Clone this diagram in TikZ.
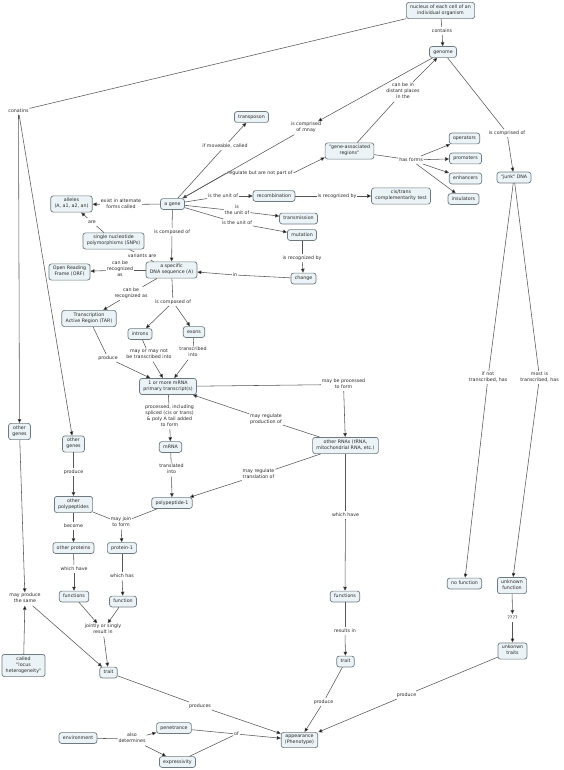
\documentclass[tikz,border=0pt]{standalone}
\usepackage{fontspec}
\newfontfamily\cmfont{DejaVu Sans}
\usetikzlibrary{arrows.meta}
\definecolor{boxfill}{RGB}{236,243,246}
\definecolor{boxline}{RGB}{110,122,128}
\definecolor{linkcol}{RGB}{85,85,85}
\definecolor{txtcol}{RGB}{40,40,40}
\begin{document}
\begin{tikzpicture}[x=1pt,y=-1pt,
  cbox/.style={draw=boxline, fill=boxfill, rounded corners=2.5pt, line width=0.7pt,
    font=\cmfont\fontsize{4.75}{6}\selectfont, text=txtcol, align=center,
    inner xsep=3.8pt, inner ysep=2.4pt,
    execute at begin node={\strut}, execute at end node={\strut}},
  lp/.style={font=\cmfont\fontsize{4.75}{6}\selectfont, text=txtcol, align=center,
    inner sep=0.8pt,
    execute at begin node={\strut}, execute at end node={\strut}},
  ln/.style={draw=linkcol, line width=0.55pt},
  arr/.style={draw=linkcol, line width=0.55pt, -{Triangle[length=4pt,width=3.6pt]}, arrows={[fill=black]}}
]
\useasboundingbox (0,0) rectangle (563,770);

% concepts
\node[cbox] (nuc) at (440.5,10.5) {nucleus of each cell of an\\individual organism};
\node[cbox] (genome) at (443,52) {genome};
\node[cbox] (ops) at (464.5,138.5) {operators};
\node[cbox] (pro) at (465.5,158.5) {promoters};
\node[cbox] (enh) at (465.5,178.5) {enhancers};
\node[cbox] (ins) at (463.5,199) {insulators};
\node[cbox] (junk) at (514,177.5) {"junk" DNA};
\node[cbox] (cis) at (401,196) {cis/trans\\complementarity test};
\node[cbox] (gar) at (349.5,151) {"gene-associated\\regions"};
\node[cbox] (tra) at (251.5,117) {transposon};
\node[cbox] (rec) at (274,196) {recombination};
\node[cbox] (trm) at (298.5,218.5) {transmission};
\node[cbox] (mut) at (302,235) {mutation};
\node[cbox] (chg) at (303.5,278.5) {change};
\node[cbox] (gene) at (172.5,204) {a gene};
\node[cbox] (all) at (71.5,204) {alleles\\(A, a1, a2, an)};
\node[cbox] (snp) at (113.5,241) {single nucleotide\\polymorphisms (SNPs)};
\node[cbox] (dna) at (171.5,270) {a specific\\DNA sequence (A)};
\node[cbox] (orf) at (69.5,272) {Open Reading\\Frame (ORF)};
\node[cbox] (tar) at (89,318.5) {Transcription\\Active Region (TAR)};
\node[cbox] (int) at (140,334) {introns};
\node[cbox] (exo) at (194,332) {exons};
\node[cbox] (prim) at (168,386.5) {1 or more mRNA\\primary transcript(s)};
\node[cbox] (mrna) at (170.5,447) {mRNA};
\node[cbox] (pp1) at (172,503) {polypeptide-1};
\node[cbox] (orna) at (345.5,445.5) {other RNAs (tRNA,\\mitochondrial RNA, etc.)};
\node[cbox] (og1) at (19.5,431.5) {other\\genes};
\node[cbox] (og2) at (73.5,444) {other\\genes};
\node[cbox] (opp) at (73.5,504.5) {other\\polypeptides};
\node[cbox] (opr) at (73.5,548) {other proteins};
\node[cbox] (pr1) at (122,548) {protein-1};
\node[cbox] (fnl) at (74,596.5) {functions};
\node[cbox] (fn1) at (123,601.5) {function};
\node[cbox] (trl) at (108.5,672.5) {trait};
\node[cbox] (loc) at (23.5,665.5) {called\\"locus\\heterogeneity"};
\node[cbox] (env) at (78,738) {environment};
\node[cbox] (pen) at (174,728) {penetrance};
\node[cbox] (exp) at (177.5,762) {expressivity};
\node[cbox] (app) at (299.5,740) {appearance\\(Phenotype)};
\node[cbox] (fnr) at (345,596.5) {functions};
\node[cbox] (trr) at (345.5,661.5) {trait};
\node[cbox] (nof) at (464.5,583.5) {no function};
\node[cbox] (unf) at (512,585.5) {unknown\\function};
\node[cbox] (unt) at (512.5,651) {unkonwn\\traits};

% linking phrases
\node[lp] (conat) at (18.5,111) {conatins};
\node[lp] (cont) at (442,31) {contains};
\node[lp] (cbd) at (403,92) {can be in\\distant places\\in the};
\node[lp] (icj) at (507,133) {is comprised of};
\node[lp] (hf) at (411,160) {has forms};
\node[lp] (icm) at (306,128) {is comprised\\of mnay};
\node[lp] (ifm) at (225,146) {if moveable, called};
\node[lp] (rbn) at (260,173) {regulate but are not part of};
\node[lp] (iu1) at (223,196) {is the unit of};
\node[lp] (irb1) at (337,196) {is recognized by};
\node[lp] (iu2) at (237,211) {is\\the unit of};
\node[lp] (iu3) at (237,223) {is the unit of};
\node[lp] (irb2) at (302,258) {is recognized by};
\node[lp] (inph) at (235,275) {in};
\node[lp] (exf) at (121,204.5) {exist in alternate\\forms called};
\node[lp] (are) at (92,222) {are};
\node[lp] (icg) at (172,232) {is composed of};
\node[lp] (var) at (142,256) {variants are};
\node[lp] (cbr1) at (120,270) {can be\\recognized\\as};
\node[lp] (cbr2) at (131,293.5) {can be\\recognized as};
\node[lp] (icd) at (173,302) {is composed of};
\node[lp] (mmn) at (149,355) {may or may not\\be transcribed into};
\node[lp] (ti) at (193,353) {transcribed\\into};
\node[lp] (prod1) at (108,358) {produce};
\node[lp] (proc) at (169.5,416.5) {processed, including\\spliced (cis or trans)\\\& poly A tail added\\to form};
\node[lp] (tin) at (171.5,470) {translated\\into};
\node[lp] (mbp) at (343.5,384.5) {may be processed\\to form};
\node[lp] (mrp) at (266,419.5) {may regulate\\production of};
\node[lp] (mrt) at (258.5,475) {may regulate\\translation of};
\node[lp] (wh1) at (345.5,515) {which have};
\node[lp] (res) at (345,631) {results in};
\node[lp] (prod2) at (323.5,702) {produce};
\node[lp] (prods) at (200,706) {produces};
\node[lp] (ofph) at (236.5,734) {of};
\node[lp] (ad) at (132,739) {also\\determines};
\node[lp] (prod3) at (406.5,695) {produce};
\node[lp] (qq) at (512.5,618) {????};
\node[lp] (inot) at (488,377.5) {if not\\transcribed, has};
\node[lp] (most) at (539.5,377.5) {most is\\transcribed, has};
\node[lp] (prod4) at (73.5,472) {produce};
\node[lp] (bec) at (73.5,526) {become};
\node[lp] (mjf) at (121,523) {may join\\to form};
\node[lp] (wh2) at (74,569) {which have};
\node[lp] (whs) at (122,576) {which has};
\node[lp] (jos) at (103,630) {jointly or singly\\result in};
\node[lp] (mps) at (25,599) {may produce\\the same};

% connectors
\draw[ln] (nuc) -- (cont); \draw[arr] (cont) -- (genome);
\draw[ln] (nuc) -- (conat); \draw[arr] (conat) -- (og1); \draw[arr] (conat) -- (og2);
\draw[ln] (genome) -- (icj); \draw[arr] (icj) -- (junk);
\draw[ln] (gar) -- (cbd); \draw[arr] (cbd) -- (genome);
\draw[arr] (genome) -- (icm); \draw[arr] (icm) -- (gene);
\draw[ln] (gar) -- (hf);
\draw[arr] (hf) -- (ops); \draw[arr] (hf) -- (pro); \draw[arr] (hf) -- (enh); \draw[arr] (hf) -- (ins);
\draw[ln] (gene) -- (ifm); \draw[arr] (ifm) -- (tra);
\draw[ln] (gene) -- (rbn.west); \draw[arr] (rbn.east) -- ([yshift=2pt]gar.south west);
\draw[ln] (gene) -- (iu1); \draw[arr] (iu1) -- (rec);
\draw[ln] (rec) -- (irb1); \draw[arr] (irb1) -- (cis);
\draw[ln] (gene) -- (iu2); \draw[arr] (iu2) -- (trm);
\draw[ln] (gene) -- (iu3); \draw[arr] (iu3) -- (mut);
\draw[ln] (mut) -- (irb2); \draw[arr] (irb2) -- (chg);
\draw[ln] (chg) -- (inph); \draw[arr] (inph) -- (dna);
\draw[ln] (gene) -- (exf); \draw[arr] (exf) -- (all);
\draw[ln] (snp) -- (are); \draw[arr] (are) -- (all);
\draw[ln] (gene) -- (icg); \draw[arr] (icg) -- (dna);
\draw[ln] (dna) -- (var); \draw[ln] (var) -- (snp);
\draw[ln] (dna) -- (cbr1); \draw[arr] (cbr1) -- (orf);
\draw[ln] (dna) -- (cbr2); \draw[arr] (cbr2) -- (tar);
\draw[ln] (dna) -- (icd); \draw[arr] (icd) -- (int); \draw[arr] (icd) -- (exo);
\draw[ln] (int) -- (mmn); \draw[arr] (mmn) -- (prim);
\draw[ln] (exo) -- (ti); \draw[arr] (ti) -- (prim);
\draw[ln] (tar) -- (prod1); \draw[arr] (prod1) -- (prim);
\draw[ln] (prim) -- (proc); \draw[arr] (proc) -- (mrna);
\draw[ln] (mrna) -- (tin); \draw[arr] (tin) -- (pp1);
\draw[ln] (prim) -- (mbp); \draw[arr] (mbp) -- (orna);
\draw[ln] (orna) -- (mrp); \draw[arr] (mrp) -- (prim);
\draw[ln] (orna) -- (mrt); \draw[arr] (mrt) -- (pp1);
\draw[ln] (orna) -- (wh1); \draw[arr] (wh1) -- (fnr);
\draw[ln] (fnr) -- (res); \draw[arr] (res) -- (trr);
\draw[ln] (trr) -- (prod2); \draw[arr] (prod2) -- (app);
\draw[ln] (og2) -- (prod4); \draw[arr] (prod4) -- (opp);
\draw[ln] (opp) -- (bec); \draw[arr] (bec) -- (opr);
\draw[ln] (opp) -- (mjf); \draw[ln] (pp1) -- (mjf); \draw[arr] (mjf) -- (pr1);
\draw[ln] (opr) -- (wh2); \draw[arr] (wh2) -- (fnl);
\draw[ln] (pr1) -- (whs); \draw[arr] (whs) -- (fn1);
\draw[arr] (fnl) -- (jos); \draw[arr] (fn1) -- (jos); \draw[arr] (jos) -- (trl);
\draw[arr] (og1) -- (mps); \draw[arr] (loc) -- (mps); \draw[arr] (mps) -- (trl);
\draw[ln] (trl) -- (prods); \draw[arr] (prods) -- (app);
\draw[ln] (env) -- (ad); \draw[arr] (ad) -- (pen); \draw[arr] (ad) -- (exp);
\draw[ln] (pen) -- (ofph); \draw[ln] (exp) -- (ofph); \draw[arr] (ofph) -- (app);
\draw[ln] (junk) -- (inot); \draw[arr] (inot) -- (nof);
\draw[ln] (junk) -- (most); \draw[arr] (most) -- (unf);
\draw[arr] (unf) -- (qq); \draw[arr] (qq) -- (unt);
\draw[ln] (unt) -- (prod3); \draw[arr] (prod3) -- (app);
\end{tikzpicture}
\end{document}
